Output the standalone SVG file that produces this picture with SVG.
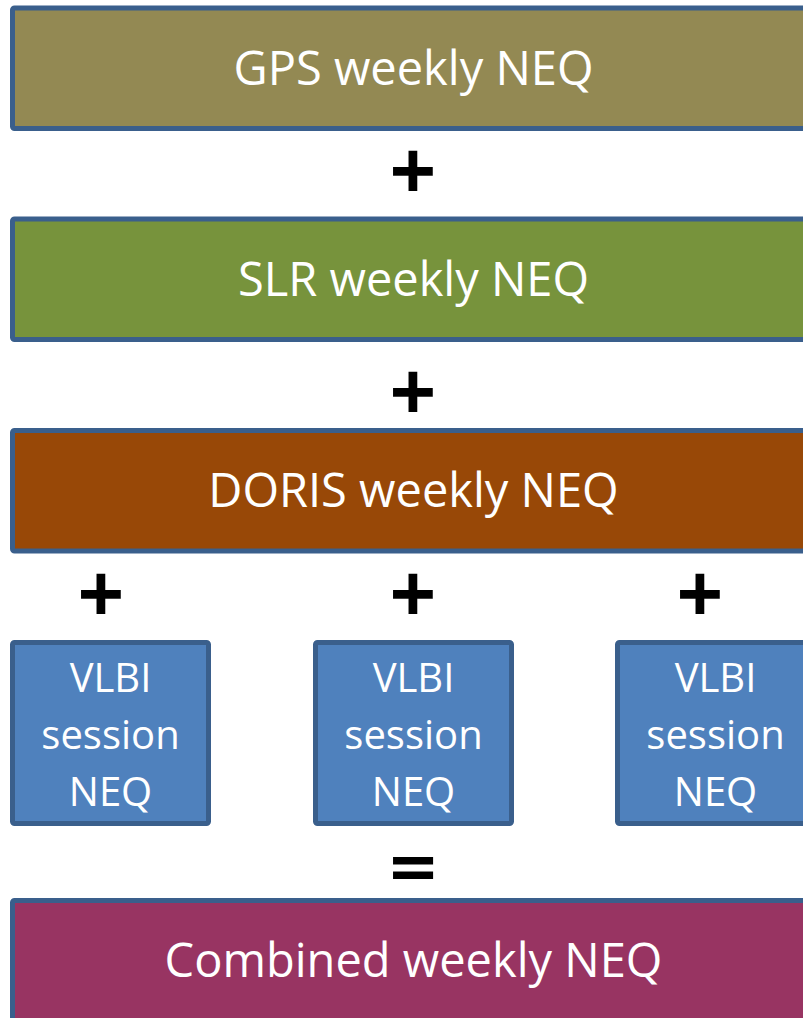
<svg xmlns="http://www.w3.org/2000/svg" width="803" height="1018" viewBox="0 0 803 1018">
<style>
.box{stroke:#3a5f8c;stroke-width:5}
.t{font-family:"Open Sans","Liberation Sans",sans-serif;fill:#ffffff;text-anchor:middle}
.big{font-size:47px}
.small{font-size:40px}
.op{font-family:"Open Sans","Liberation Sans",sans-serif;font-weight:bold;font-size:82px;fill:#000000;text-anchor:middle}
.eq{font-family:"DejaVu Sans",sans-serif;font-weight:bold;font-size:64px;fill:#000000;text-anchor:middle}
</style>
<rect width="803" height="1018" fill="#ffffff"/>
<g id="gps">
<rect class="box" x="12.5" y="8" width="804" height="120.5" rx="2" fill="#938953"/>
<text class="t big" x="413.5" y="85">GPS weekly NEQ</text>
</g>
<g id="slr">
<rect class="box" x="12.5" y="219" width="804" height="120.5" rx="2" fill="#77933c"/>
<text class="t big" x="413.5" y="296">SLR weekly NEQ</text>
</g>
<g id="doris">
<rect class="box" x="12.5" y="430.5" width="804" height="120.5" rx="2" fill="#984807"/>
<text class="t big" x="413.5" y="507">DORIS weekly NEQ</text>
</g>
<g id="vlbi1">
<rect class="box" x="12.5" y="642.5" width="196" height="181" rx="2" fill="#4f81bd"/>
<text class="t small" x="110.5" y="692">VLBI</text>
<text class="t small" x="110.5" y="749">session</text>
<text class="t small" x="110.5" y="806">NEQ</text>
</g>
<g id="vlbi2">
<rect class="box" x="315.5" y="642.5" width="196" height="181" rx="2" fill="#4f81bd"/>
<text class="t small" x="413.5" y="692">VLBI</text>
<text class="t small" x="413.5" y="749">session</text>
<text class="t small" x="413.5" y="806">NEQ</text>
</g>
<g id="vlbi3">
<rect class="box" x="617.5" y="642.5" width="196" height="181" rx="2" fill="#4f81bd"/>
<text class="t small" x="715.5" y="692">VLBI</text>
<text class="t small" x="715.5" y="749">session</text>
<text class="t small" x="715.5" y="806">NEQ</text>
</g>
<g id="combined">
<rect class="box" x="12.5" y="900.5" width="804" height="130" rx="2" fill="#983462"/>
<text class="t big" x="413.5" y="977">Combined weekly NEQ</text>
</g>
<g id="operators">
<text class="op" x="413" y="200">+</text>
<text class="op" x="413" y="421">+</text>
<text class="op" x="101" y="623">+</text>
<text class="op" x="413" y="623">+</text>
<text class="op" x="700" y="623">+</text>
<text class="eq" x="413" y="888">=</text>
</g>
</svg>
